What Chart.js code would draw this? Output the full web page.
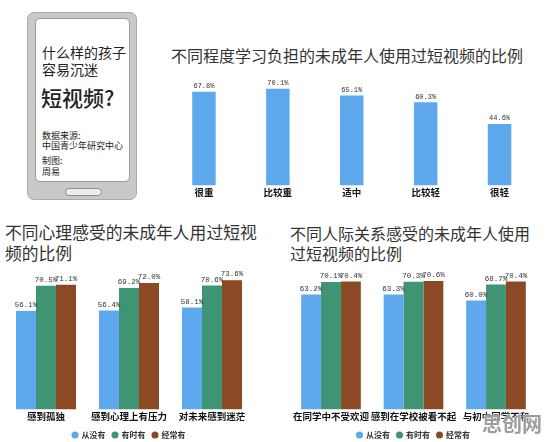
<!DOCTYPE html>
<html>
<head>
<meta charset="utf-8">
<script src="https://cdn.jsdelivr.net/npm/chart.js@4"></script>
<style>
  html, body { margin: 0; padding: 0; background: #fff; overflow: hidden; }
  body { width: 546px; height: 442px; position: relative; font-family: "Noto Sans CJK SC", sans-serif; color: #222; }
  canvas, .abs { position: absolute; }
  .phone { left: 27px; top: 12px; width: 108px; height: 186px; background: #c9c9c9; border: 1px solid #a9a9a9; border-radius: 7px; }
  .screen { left: 35px; top: 18px; width: 93px; height: 162px; background: #fff; border: 1px solid #9a9a9a; border-radius: 5px; }
  .home { left: 65px; top: 188px; width: 35px; height: 6px; background: #ececec; border: 1px solid #8d8d8d; border-radius: 4px; }
  .txt { white-space: nowrap; }
  .title { font-size: 16px; color: #333; white-space: nowrap; }
  .mark { left: 482px; top: 409px; font-size: 20px; font-weight: bold; color: rgba(150,150,150,0.92); text-shadow: 0 0 2px #fff, 0 0 2px #fff; }
</style>
</head>
<body>
<div class="abs phone"></div>
<div class="abs screen"></div>
<div class="abs home"></div>
<div class="abs txt" style="left:42px;top:44px;font-size:14px;line-height:17px;">什么样的孩子<br>容易沉迷</div>
<div class="abs txt" style="left:41px;top:84px;font-size:21px;line-height:26px;font-weight:500;">短视频?</div>
<div class="abs txt" style="left:42px;top:131px;font-size:9px;line-height:10px;">数据来源:<br>中国青少年研究中心</div>
<div class="abs txt" style="left:42px;top:155px;font-size:9px;line-height:11px;">制图:<br>周易</div>

<div class="abs title" style="left:171px;top:45px;line-height:20px;">不同程度学习负担的未成年人使用过短视频的比例</div>
<div class="abs title" style="left:5px;top:222px;font-size:16.8px;line-height:21px;">不同心理感受的未成年人用过短视<br>频的比例</div>
<div class="abs title" style="left:290px;top:223px;line-height:20px;">不同人际关系感受的未成年人使用<br>过短视频的比例</div>

<canvas id="burden" width="396" height="140" style="left:150px;top:60px;"></canvas>
<canvas id="mental" width="273" height="187" style="left:0px;top:262px;"></canvas>
<canvas id="social" width="273" height="187" style="left:273px;top:262px;"></canvas>
<div class="abs mark">思创网</div>

<script>
// 学习负担
const burdenLabels = ['很重', '比较重', '适中', '比较轻', '很轻'];
const burdenValues = [67.8, 70.1, 65.1, 60.3, 44.6];

// 心理感受 / 人际关系
const freqNames = ['从没有', '有时有', '经常有'];
const mentalLabels = ['感到孤独', '感到心理上有压力', '对未来感到迷茫'];
const mentalNever = [56.1, 56.4, 58.1];
const mentalSometimes = [70.5, 69.2, 70.6];
const mentalOften = [71.1, 72.0, 73.6];

const socialLabels = ['在同学中不受欢迎', '感到在学校被看不起', '与初中同学不和'];
const socialNever = [63.2, 63.3, 60.0];
const socialSometimes = [70.1, 70.3, 68.7];
const socialOften = [70.4, 70.6, 70.4];

const blue = '#5ea9ee';
const green = '#3f9474';
const brown = '#8b4a24';

// draws the "xx.x%" above every bar
const valueLabels = {
    id: 'valueLabels',
    afterDatasetsDraw(chart, args, opts) {
        const ctx = chart.ctx;
        ctx.save();
        ctx.font = opts.font;
        ctx.fillStyle = '#333';
        ctx.textAlign = 'center';
        ctx.textBaseline = 'bottom';
        chart.data.datasets.forEach((ds, i) => {
            chart.getDatasetMeta(i).data.forEach((bar, j) => {
                ctx.fillText(ds.data[j].toFixed(1) + '%', bar.x, bar.y - 2);
            });
        });
        ctx.restore();
    }
};

const tickFont = { family: '"Noto Sans CJK SC"', size: 9.5, weight: 'bold' };

function baseOptions(padding, yMax, legend, labelFont) {
    return {
        responsive: false,
        animation: false,
        devicePixelRatio: 1,
        layout: { padding: padding },
        scales: {
            x: {
                grid: { display: false, drawTicks: false },
                border: { display: false },
                ticks: { font: tickFont, color: '#111', padding: 1.5, maxRotation: 0, autoSkip: false }
            },
            y: { display: false, min: 0, max: yMax }
        },
        plugins: {
            legend: legend,
            tooltip: { enabled: false },
            valueLabels: { font: labelFont }
        }
    };
}

const groupLegend = {
    display: true,
    position: 'bottom',
    labels: {
        usePointStyle: true,
        pointStyle: 'circle',
        boxWidth: 5,
        boxHeight: 5,
        padding: 7,
        color: '#333',
        font: { family: '"Noto Sans CJK SC"', size: 8, weight: 'bold' }
    }
};

new Chart(document.getElementById('burden'), {
    type: 'bar',
    data: {
        labels: burdenLabels,
        datasets: [{
            data: burdenValues,
            backgroundColor: blue,
            barPercentage: 1,
            categoryPercentage: 0.318
        }]
    },
    options: baseOptions({ left: 17, right: 9.5, top: 15, bottom: 0 }, 80,
        { display: false }, '7px "Liberation Mono"'),
    plugins: [valueLabels]
});

function groupData(labels, never, sometimes, often) {
    const common = { barPercentage: 1, categoryPercentage: 0.723, borderWidth: 0 };
    return {
        labels: labels,
        datasets: [
            Object.assign({ label: freqNames[0], data: never, backgroundColor: blue }, common),
            Object.assign({ label: freqNames[1], data: sometimes, backgroundColor: green }, common),
            Object.assign({ label: freqNames[2], data: often, backgroundColor: brown }, common)
        ]
    };
}

new Chart(document.getElementById('mental'), {
    type: 'bar',
    data: groupData(mentalLabels, mentalNever, mentalSometimes, mentalOften),
    options: baseOptions({ left: 4.5, right: 19.5, top: 7, bottom: 0 }, 80,
        groupLegend, '7.5px "Liberation Mono"'),
    plugins: [valueLabels]
});

new Chart(document.getElementById('social'), {
    type: 'bar',
    data: groupData(socialLabels, socialNever, socialSometimes, socialOften),
    options: baseOptions({ left: 16.75, right: 8.75, top: 2, bottom: 0 }, 80,
        groupLegend, '7.5px "Liberation Mono"'),
    plugins: [valueLabels]
});
</script>
</body>
</html>
